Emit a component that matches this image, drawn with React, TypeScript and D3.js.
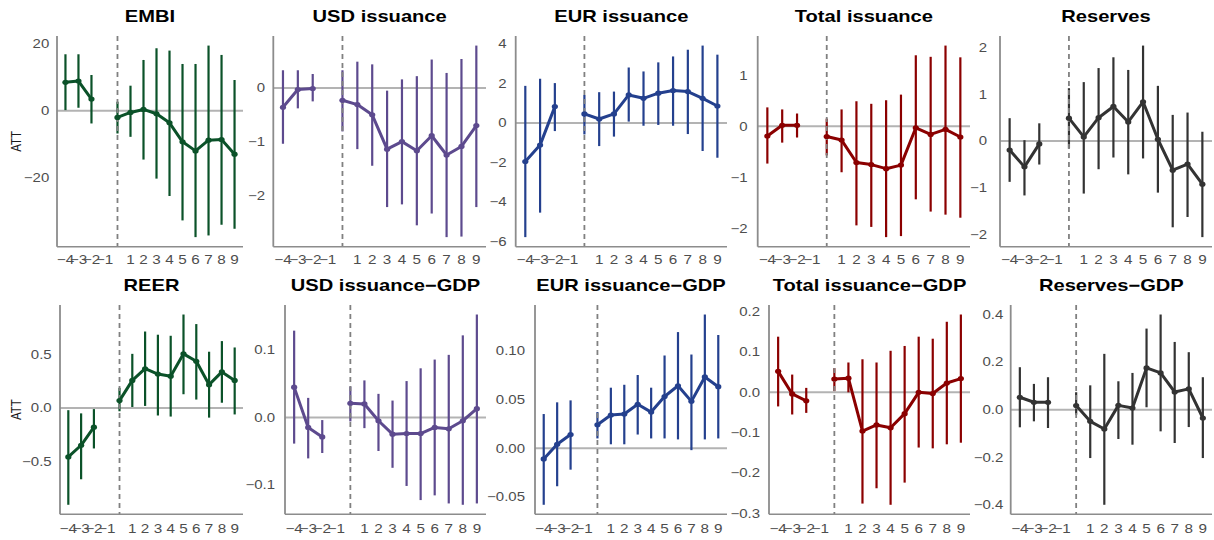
import React, { useEffect } from "react";
import * as d3 from "d3";

// event times (reference period -1 omitted)
const periods = [-4, -3, -2, 0, 1, 2, 3, 4, 5, 6, 7, 8, 9];
const xTickValues = [-4, -3, -2, -1, 1, 2, 3, 4, 5, 6, 7, 8, 9];

const titles = [
  "EMBI", "USD issuance", "EUR issuance", "Total issuance", "Reserves",
  "REER", "USD issuance\u2212GDP", "EUR issuance\u2212GDP", "Total issuance\u2212GDP", "Reserves\u2212GDP",
];

const embiEst = [8.5, 8.9, 3.5, -2.0, -0.5, 0.4, -0.9, -3.6, -9.3, -12.0, -8.8, -8.6, -13.0];
const embiLo = [0.2, 0.9, -3.8, -6.8, -7.8, -14.6, -20.3, -25.5, -32.8, -37.8, -37.3, -34.1, -35.3];
const embiHi = [16.9, 16.9, 10.7, 2.7, 7.5, 15.2, 18.7, 18.0, 14.0, 14.0, 19.5, 16.7, 9.2];

const usdEst = [-0.36, -0.03, -0.01, -0.23, -0.31, -0.5, -1.14, -1.0, -1.17, -0.89, -1.25, -1.09, -0.7];
const usdLo = [-1.04, -0.38, -0.25, -0.81, -1.14, -1.45, -2.22, -2.17, -2.56, -2.34, -2.78, -2.77, -2.22];
const usdHi = [0.33, 0.33, 0.26, 0.33, 0.49, 0.44, -0.05, 0.16, 0.22, 0.53, 0.28, 0.54, 0.79];

const eurEst = [-1.95, -1.12, 0.83, 0.46, 0.2, 0.46, 1.42, 1.25, 1.51, 1.64, 1.59, 1.25, 0.86];
const eurLo = [-5.78, -4.54, -0.41, -0.58, -1.17, -0.69, 0.07, -0.14, -0.1, -0.14, -0.56, -1.42, -1.76];
const eurHi = [1.88, 2.24, 2.02, 1.42, 1.56, 1.59, 2.81, 2.61, 3.07, 3.37, 3.71, 3.92, 3.46];

const totEst = [-0.19, 0.02, 0.02, -0.2, -0.27, -0.71, -0.75, -0.83, -0.76, -0.03, -0.16, -0.06, -0.21];
const totLo = [-0.73, -0.32, -0.22, -0.57, -0.9, -1.94, -1.97, -2.17, -2.15, -1.43, -1.67, -1.73, -1.79];
const totHi = [0.37, 0.33, 0.25, 0.15, 0.33, 0.49, 0.44, 0.51, 0.62, 1.39, 1.36, 1.58, 1.35];

const resEst = [-0.19, -0.55, -0.06, 0.49, 0.09, 0.5, 0.74, 0.41, 0.84, 0.04, -0.62, -0.49, -0.92];
const resLo = [-0.87, -1.16, -0.5, -0.16, -1.12, -0.6, -0.35, -0.71, -0.37, -1.1, -1.84, -1.62, -2.05];
const resHi = [0.49, 0.02, 0.38, 1.13, 1.26, 1.56, 1.79, 1.52, 2.04, 1.18, 0.56, 0.61, 0.2];

const reerEst = [-0.46, -0.35, -0.18, 0.07, 0.26, 0.37, 0.32, 0.3, 0.51, 0.44, 0.22, 0.34, 0.26];
const reerLo = [-0.91, -0.67, -0.38, -0.03, 0.01, 0.02, -0.07, -0.08, 0.13, 0.08, -0.09, 0.05, -0.06];
const reerHi = [-0.02, -0.05, -0.01, 0.19, 0.51, 0.72, 0.69, 0.68, 0.88, 0.79, 0.53, 0.63, 0.57];

const usdGdpEst = [0.045, -0.015, -0.029, 0.021, 0.02, -0.005, -0.025, -0.024, -0.024, -0.015, -0.017, -0.005, 0.013];
const usdGdpLo = [-0.039, -0.061, -0.053, -0.006, -0.016, -0.05, -0.075, -0.102, -0.123, -0.116, -0.128, -0.13, -0.128];
const usdGdpHi = [0.129, 0.029, -0.004, 0.046, 0.055, 0.035, 0.025, 0.054, 0.073, 0.086, 0.093, 0.122, 0.153];

const eurGdpEst = [-0.011, 0.004, 0.014, 0.024, 0.034, 0.035, 0.045, 0.037, 0.053, 0.064, 0.048, 0.073, 0.063];
const eurGdpLo = [-0.058, -0.039, -0.022, 0.01, 0.004, 0.004, 0.014, 0.01, 0.01, 0.009, -0.002, 0.009, 0.01];
const eurGdpHi = [0.035, 0.047, 0.049, 0.037, 0.062, 0.065, 0.075, 0.062, 0.095, 0.119, 0.096, 0.137, 0.116];

const totGdpEst = [0.052, -0.004, -0.021, 0.033, 0.035, -0.096, -0.081, -0.088, -0.053, 0.0, -0.003, 0.023, 0.034];
const totGdpLo = [-0.035, -0.055, -0.051, 0.003, 0.0, -0.276, -0.238, -0.279, -0.224, -0.137, -0.139, -0.129, -0.125];
const totGdpHi = [0.138, 0.044, 0.011, 0.06, 0.074, 0.082, 0.074, 0.103, 0.115, 0.138, 0.133, 0.175, 0.193];

const resGdpEst = [0.052, 0.031, 0.031, 0.017, -0.049, -0.081, 0.018, 0.007, 0.175, 0.154, 0.074, 0.087, -0.035];
const resGdpLo = [-0.074, -0.049, -0.077, -0.021, -0.203, -0.399, -0.123, -0.147, 0.01, -0.091, -0.14, -0.073, -0.203];
const resGdpHi = [0.178, 0.108, 0.136, 0.073, 0.102, 0.234, 0.119, 0.154, 0.34, 0.399, 0.284, 0.241, 0.136];

const yTicks = [
  [-20, 0, 20],
  [-2, -1, 0],
  [-6, -4, -2, 0, 2, 4],
  [-2, -1, 0, 1],
  [-2, -1, 0, 1, 2],
  [-0.5, 0, 0.5],
  [-0.1, 0, 0.1],
  [-0.05, 0, 0.05, 0.1],
  [-0.3, -0.2, -0.1, 0, 0.1, 0.2],
  [-0.4, -0.2, 0, 0.2, 0.4],
];
const yFormats = ["d", "d", "d", "d", "d", ".1f", ".1f", ".2f", ".1f", ".1f"];

const colors = ["#0b5229", "#5d4a8e", "#24408e", "#8b0000", "#333333",
  "#0b5229", "#5d4a8e", "#24408e", "#8b0000", "#333333"];

const series = [
  [embiEst, embiLo, embiHi], [usdEst, usdLo, usdHi], [eurEst, eurLo, eurHi],
  [totEst, totLo, totHi], [resEst, resLo, resHi],
  [reerEst, reerLo, reerHi], [usdGdpEst, usdGdpLo, usdGdpHi], [eurGdpEst, eurGdpLo, eurGdpHi],
  [totGdpEst, totGdpLo, totGdpHi], [resGdpEst, resGdpLo, resGdpHi],
];

// layout
const plotLefts = [57, 273.3, 515.7, 757.7, 1000, 60, 285, 535, 769, 1010.7];
const labelGaps = [7.7, 8.3, 9, 10, 13, 8.3, 10, 10, 9, 7.4];
const plotRights = [243, 486, 727, 970, 1212];
const rowTops = [36, 305];
const rowBottoms = [246.7, 514.3];
const xLabelOffsets = [17, 18.5];
const STRETCH = 1.22;

const FONT = "'Liberation Sans', Arial, Helvetica, sans-serif";

function SText(props: {
  x: number; y: number; anchor: string; size: number; fill: string; bold?: boolean; dy?: string;
  children: React.ReactNode;
}) {
  return (
    <text transform={`translate(${props.x},${props.y}) scale(${STRETCH},1)`} textAnchor={props.anchor}
      dy={props.dy} fontFamily={FONT} fontSize={props.size} fontWeight={props.bold ? "bold" : "normal"}
      fill={props.fill}>{props.children}</text>
  );
}

function Panel({ i }: { i: number }) {
  const row = Math.floor(i / 5);
  const col = i % 5;
  const left = plotLefts[i];
  const right = plotRights[col];
  const top = rowTops[row];
  const bottom = rowBottoms[row];
  const [est, lo, hi] = series[i];
  const color = colors[i];

  const yMin = Math.min(d3.min(lo) as number, 0);
  const yMax = Math.max(d3.max(hi) as number, 0);
  const ySpan = yMax - yMin;
  const y = d3.scaleLinear().domain([yMin - 0.05 * ySpan, yMax + 0.05 * ySpan]).range([bottom, top]);
  const xSpan = 9 - -4;
  const x = d3.scaleLinear().domain([-4 - 0.05 * xSpan, 9 + 0.05 * xSpan]).range([left, right]);

  const pts = periods.map((p, k) => ({ p, e: est[k], l: lo[k], h: hi[k] }));
  const pre = pts.filter((d) => d.p < 0);
  const post = pts.filter((d) => d.p >= 0);
  const line = d3.line<{ p: number; e: number }>().x((d) => x(d.p)).y((d) => y(d.e));
  const fmt = d3.format(yFormats[i]);

  return (
    <g>
      <SText x={(left + right) / 2} y={top - 14.3} anchor="middle" size={16.5} bold fill="#000">
        {titles[i]}
      </SText>
      {col === 0 && (
        <text transform={`translate(${21},${(top + bottom) / 2}) rotate(-90) scale(1,${STRETCH})`}
          textAnchor="middle" fontFamily={FONT} fontSize={11.5} fill="#1a1a1a">ATT</text>
      )}
      {yTicks[i].map((t) => (
        <SText key={t} x={left - labelGaps[i]} y={y(t)} dy="0.35em" anchor="end" size={12.3} fill="#4d4d4d">
          {fmt(t)}
        </SText>
      ))}
      {xTickValues.map((t) => (
        <SText key={t} x={x(t)} y={bottom + xLabelOffsets[row]} anchor="middle" size={12.5} fill="#4d4d4d">
          {d3.format("d")(t)}
        </SText>
      ))}
      <line x1={left} x2={right} y1={y(0)} y2={y(0)} stroke="#b3b3b3" strokeWidth={2} />
      {pts.map((d) => (
        <line key={d.p} x1={x(d.p)} x2={x(d.p)} y1={y(d.l)} y2={y(d.h)} stroke={color} strokeWidth={2.2} />
      ))}
      <line x1={x(0)} x2={x(0)} y1={top} y2={bottom} stroke="#808080" strokeWidth={1.8}
        strokeDasharray="5,4" />
      <path d={line(pre) || ""} fill="none" stroke={color} strokeWidth={3} strokeLinejoin="round" />
      <path d={line(post) || ""} fill="none" stroke={color} strokeWidth={3} strokeLinejoin="round" />
      {pts.map((d) => (
        <ellipse key={d.p} cx={x(d.p)} cy={y(d.e)} rx={3.1} ry={2.6} fill={color} />
      ))}
      <line x1={left} x2={left} y1={top} y2={bottom} stroke="#8c8c8c" strokeWidth={1.8} />
      <line x1={left} x2={right} y1={bottom} y2={bottom} stroke="#8c8c8c" strokeWidth={1.6} />
    </g>
  );
}

export default function App() {
  useEffect(() => {
    document.body.style.margin = "0";
  }, []);
  return (
    <svg width={1214} height={540} style={{ position: "absolute", left: 0, top: 0, background: "#fff" }}>
      <rect width={1214} height={540} fill="#fff" />
      {titles.map((_, i) => (
        <Panel key={i} i={i} />
      ))}
    </svg>
  );
}
